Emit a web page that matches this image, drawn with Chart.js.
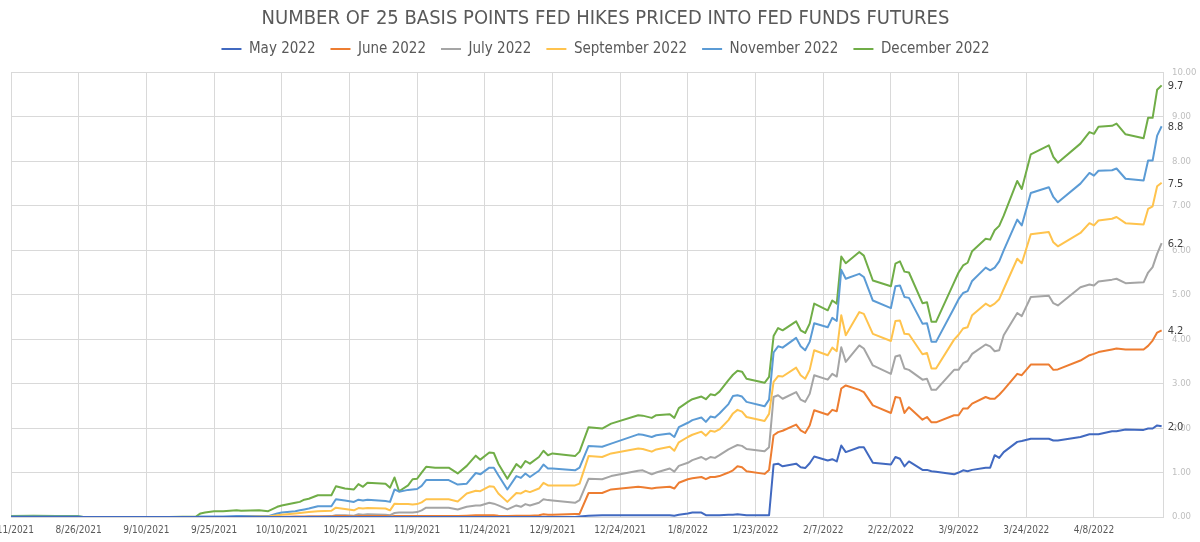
<!DOCTYPE html>
<html><head><meta charset="utf-8">
<script src="https://cdn.jsdelivr.net/npm/chart.js@4.4.1/dist/chart.umd.min.js"></script>
<style>html,body{margin:0;padding:0;background:#fff;}#wrap{position:relative;width:1200px;height:542px;}</style>
</head><body><div id="wrap"><canvas id="c"></canvas></div>
<script>
const FONT = "'Liberation Sans Narrow','DejaVu Sans Condensed','Roboto',sans-serif";
const titleText = 'NUMBER OF 25 BASIS POINTS FED HIKES PRICED INTO FED FUNDS FUTURES';
const seriesNames = ['May 2022','June 2022','July 2022','September 2022','November 2022','December 2022'];
const seriesColors = ['#4169C0','#ED7D31','#A5A5A5','#FFC34D','#5B9BD5','#70AD47'];
const xTickLabels = ['8/11/2021','8/26/2021','9/10/2021','9/25/2021','10/10/2021','10/25/2021','11/9/2021','11/24/2021','12/9/2021','12/24/2021','1/8/2022','1/23/2022','2/7/2022','2/22/2022','3/9/2022','3/24/2022','4/8/2022'];
const yTickValues = [0,1,2,3,4,5,6,7,8,9,10];

const dates = [
'2021-08-11','2021-08-16','2021-08-21','2021-08-26','2021-08-27','2021-09-05','2021-09-15','2021-09-21','2021-09-22','2021-09-23',
'2021-09-25','2021-09-27','2021-09-30','2021-10-01','2021-10-05','2021-10-07','2021-10-09','2021-10-10','2021-10-13','2021-10-14',
'2021-10-15','2021-10-16','2021-10-18','2021-10-21','2021-10-22','2021-10-24','2021-10-26','2021-10-27','2021-10-28','2021-10-29',
'2021-11-02','2021-11-03','2021-11-04','2021-11-05','2021-11-07','2021-11-08','2021-11-09','2021-11-10','2021-11-11','2021-11-13',
'2021-11-16','2021-11-18','2021-11-20','2021-11-22','2021-11-23','2021-11-25','2021-11-26','2021-11-27','2021-11-29','2021-12-01',
'2021-12-02','2021-12-03','2021-12-04','2021-12-06','2021-12-07','2021-12-08','2021-12-09','2021-12-14','2021-12-15','2021-12-17',
'2021-12-20','2021-12-22','2021-12-28','2021-12-29','2021-12-31','2022-01-01','2022-01-04','2022-01-05','2022-01-06','2022-01-08',
'2022-01-09','2022-01-11','2022-01-12','2022-01-13','2022-01-14','2022-01-15','2022-01-17','2022-01-18','2022-01-19','2022-01-20',
'2022-01-21','2022-01-25','2022-01-26','2022-01-27','2022-01-28','2022-01-29','2022-02-01','2022-02-02','2022-02-03','2022-02-04',
'2022-02-05','2022-02-08','2022-02-09','2022-02-10','2022-02-11','2022-02-12','2022-02-15','2022-02-16','2022-02-18','2022-02-22',
'2022-02-23','2022-02-24','2022-02-25','2022-02-26','2022-03-01','2022-03-02','2022-03-03','2022-03-04','2022-03-08','2022-03-09',
'2022-03-10','2022-03-11','2022-03-12','2022-03-15','2022-03-16','2022-03-17','2022-03-18','2022-03-19','2022-03-22','2022-03-23',
'2022-03-25','2022-03-29','2022-03-30','2022-03-31','2022-04-05','2022-04-07','2022-04-08','2022-04-09','2022-04-12','2022-04-13',
'2022-04-15','2022-04-19','2022-04-20','2022-04-21','2022-04-22','2022-04-23'];

const may2022 = [
0,0,0,0,0,0,0,0,0,0,
0,0,0,0,0,0,0,0,0,0,
0,0,0,0,0,0,0,0,0,0,
0,0,0,0,0,0,0,0,0,0,
0,0,0,0,0,0,0,0,0,0,
0,0,0,0,0,0,0,0,0.01,0.03,
0.04,0.04,0.04,0.04,0.04,0.04,0.04,0.03,0.05,0.08,
0.10,0.10,0.04,0.04,0.04,0.04,0.05,0.05,0.06,0.05,
0.04,0.04,0.04,1.18,1.20,1.14,1.20,1.12,1.10,1.21,
1.36,1.27,1.30,1.25,1.61,1.46,1.57,1.57,1.22,1.18,
1.35,1.31,1.14,1.25,1.06,1.06,1.03,1.02,0.96,1.00,
1.05,1.03,1.06,1.11,1.11,1.39,1.33,1.46,1.69,1.71,
1.76,1.76,1.72,1.72,1.80,1.86,1.86,1.86,1.93,1.93,
1.97,1.96,1.99,1.99,2.06,2.04];

const june2022 = [
0,0,0,0,0,0,0,0,0,0,
0,0,0,0,0,0,0,0,0.01,0.01,
0.01,0.01,0.01,0.01,0.02,0.02,0.01,0.02,0.02,0.02,
0.02,0.01,0.02,0.02,0.02,0.02,0.02,0.02,0.02,0.02,
0.02,0.02,0.03,0.04,0.04,0.04,0.04,0.03,0.02,0.03,
0.03,0.03,0.03,0.04,0.06,0.05,0.05,0.07,0.07,0.54,
0.54,0.62,0.68,0.67,0.64,0.66,0.68,0.64,0.77,0.85,
0.87,0.90,0.85,0.90,0.90,0.92,1.00,1.05,1.14,1.12,
1.03,0.97,1.06,1.84,1.91,1.94,2.08,1.95,1.89,2.06,
2.40,2.30,2.41,2.38,2.89,2.96,2.86,2.81,2.51,2.34,
2.70,2.68,2.34,2.47,2.19,2.25,2.13,2.13,2.29,2.29,
2.44,2.44,2.55,2.70,2.66,2.66,2.75,2.86,3.22,3.19,
3.43,3.43,3.31,3.32,3.52,3.64,3.67,3.71,3.77,3.79,
3.77,3.77,3.85,3.97,4.15,4.20];

const july2022 = [
0,0,0,0,0,0,0,0,0,0,
0,0,0,0,0,0,0,0,0,0,
0,0.01,0.01,0.02,0.04,0.04,0.03,0.06,0.05,0.06,
0.05,0.04,0.09,0.10,0.10,0.10,0.11,0.15,0.21,0.21,
0.21,0.17,0.23,0.26,0.26,0.32,0.30,0.26,0.17,0.26,
0.23,0.29,0.26,0.32,0.40,0.38,0.37,0.32,0.38,0.86,
0.85,0.92,1.04,1.05,0.96,1.00,1.09,1.02,1.15,1.22,
1.28,1.35,1.29,1.35,1.33,1.39,1.52,1.57,1.62,1.60,
1.53,1.48,1.57,2.70,2.74,2.66,2.81,2.64,2.59,2.77,
3.19,3.09,3.22,3.16,3.82,3.49,3.86,3.79,3.41,3.22,
3.61,3.64,3.34,3.31,3.09,3.11,2.86,2.86,3.31,3.31,
3.46,3.51,3.67,3.88,3.84,3.73,3.75,4.09,4.59,4.52,
4.95,4.98,4.81,4.76,5.17,5.23,5.21,5.30,5.34,5.36,
5.26,5.28,5.50,5.62,5.92,6.16];

const september2022 = [
0,0,0,0,0,0,0,0,0,0,
0,0,0,0,0.01,0.01,0.04,0.05,0.08,0.09,
0.10,0.11,0.13,0.14,0.21,0.18,0.15,0.20,0.19,0.20,
0.19,0.15,0.30,0.29,0.29,0.28,0.29,0.33,0.40,0.40,
0.40,0.35,0.53,0.59,0.58,0.69,0.68,0.53,0.34,0.54,
0.53,0.59,0.56,0.64,0.77,0.71,0.71,0.71,0.75,1.37,
1.35,1.43,1.54,1.53,1.47,1.52,1.58,1.49,1.68,1.80,
1.85,1.92,1.83,1.94,1.92,1.97,2.18,2.33,2.41,2.37,
2.25,2.16,2.32,3.04,3.17,3.16,3.36,3.19,3.11,3.31,
3.75,3.64,3.81,3.73,4.54,4.09,4.61,4.57,4.12,3.96,
4.41,4.42,4.12,4.11,3.66,3.69,3.34,3.34,3.99,4.10,
4.24,4.27,4.54,4.80,4.74,4.80,4.90,5.13,5.81,5.71,
6.36,6.41,6.18,6.09,6.39,6.61,6.56,6.67,6.71,6.75,
6.61,6.58,6.93,6.99,7.44,7.52];

const november2022 = [
0.01,0.01,0.01,0.01,0,0,0,0,0.01,0.01,
0.01,0.01,0.02,0.02,0.02,0.02,0.08,0.10,0.13,0.15,
0.17,0.19,0.24,0.24,0.40,0.37,0.34,0.39,0.37,0.39,
0.36,0.34,0.62,0.57,0.61,0.62,0.63,0.70,0.83,0.83,
0.83,0.73,0.75,0.99,0.96,1.11,1.11,0.94,0.62,0.92,
0.88,0.98,0.90,1.04,1.18,1.09,1.09,1.05,1.11,1.60,
1.58,1.65,1.86,1.85,1.80,1.84,1.88,1.80,2.02,2.12,
2.18,2.24,2.14,2.26,2.24,2.33,2.54,2.72,2.74,2.71,
2.59,2.49,2.64,3.70,3.84,3.81,4.03,3.84,3.75,3.94,
4.36,4.27,4.48,4.41,5.56,5.36,5.47,5.40,4.87,4.70,
5.19,5.21,4.95,4.93,4.35,4.36,3.94,3.94,4.70,4.90,
5.04,5.08,5.31,5.61,5.55,5.61,5.75,6.00,6.69,6.56,
7.29,7.42,7.20,7.08,7.50,7.74,7.68,7.79,7.80,7.84,
7.61,7.57,8.02,8.02,8.58,8.79];

const december2022 = [
0.02,0.03,0.02,0.02,0,0,0,0.01,0.08,0.10,
0.13,0.13,0.15,0.14,0.15,0.13,0.23,0.26,0.32,0.34,
0.39,0.41,0.49,0.49,0.69,0.64,0.62,0.74,0.68,0.77,
0.75,0.66,0.89,0.58,0.71,0.85,0.86,1.00,1.13,1.11,
1.11,0.98,1.15,1.38,1.29,1.45,1.44,1.20,0.86,1.19,
1.11,1.26,1.20,1.35,1.49,1.39,1.43,1.37,1.47,2.02,
1.99,2.10,2.29,2.28,2.23,2.29,2.31,2.23,2.45,2.59,
2.65,2.71,2.65,2.76,2.74,2.82,3.08,3.20,3.29,3.27,
3.11,3.02,3.15,4.07,4.25,4.20,4.40,4.20,4.14,4.35,
4.80,4.65,4.87,4.80,5.86,5.71,5.96,5.88,5.32,5.19,
5.70,5.75,5.52,5.50,4.81,4.83,4.39,4.39,5.28,5.50,
5.66,5.72,5.98,6.26,6.24,6.45,6.55,6.78,7.56,7.38,
8.16,8.36,8.10,7.97,8.40,8.66,8.62,8.78,8.80,8.85,
8.61,8.52,8.98,8.98,9.61,9.71];

const seriesValues = [may2022, june2022, july2022, september2022, november2022, december2022];

// day offsets from the first date
const startMs = Date.parse(dates[0] + 'T00:00:00Z');
const dayIndex = dates.map(d => Math.round((Date.parse(d + 'T00:00:00Z') - startMs) / 86400000));

const endLabels = {
  id: 'endLabels',
  afterDatasetsDraw(chart) {
    const ctx = chart.ctx;
    ctx.save();
    ctx.font = '11px ' + FONT;
    ctx.fillStyle = '#404040';
    ctx.textAlign = 'left';
    ctx.textBaseline = 'middle';
    chart.data.datasets.forEach((ds, i) => {
      const meta = chart.getDatasetMeta(i);
      const el = meta.data[meta.data.length - 1];
      const v = ds.data[ds.data.length - 1].y;
      ctx.fillText(v.toFixed(1), el.x + 6, el.y + 1);
    });
    ctx.restore();
  }
};

// adds a little space between the legend and the plot area
const legendGap = {
  id: 'legendGap',
  beforeLayout(chart) {
    const lg = chart.legend;
    if (lg && !lg._gapPatched) {
      const orig = lg.fit.bind(lg);
      lg.fit = function () { orig(); this.height += 6; };
      lg._gapPatched = true;
    }
  }
};

Chart.defaults.font.family = FONT;

new Chart(document.getElementById('c'), {
  type: 'line',
  data: {
    datasets: seriesNames.map((name, i) => ({
      label: name,
      data: seriesValues[i].map((v, j) => ({ x: dayIndex[j], y: v })),
      borderColor: seriesColors[i],
      backgroundColor: seriesColors[i],
      borderWidth: 2,
      pointRadius: 0,
      pointHoverRadius: 0,
      tension: 0,
      borderJoinStyle: 'round',
      fill: false
    }))
  },
  plugins: [endLabels, legendGap],
  options: {
    responsive: true,
    maintainAspectRatio: false,
    animation: false,
    events: [],
    layout: { padding: { left: 11, right: 0, top: 0, bottom: 0 } },
    plugins: {
      title: {
        display: true,
        text: titleText,
        color: '#595959',
        font: { size: 20, weight: 'normal', lineHeight: 1.2 },
        padding: { top: 7, bottom: -4.5 }
      },
      legend: {
        display: true,
        position: 'top',
        labels: {
          color: '#595959',
          font: { size: 15 },
          usePointStyle: true,
          pointStyle: 'line',
          pointStyleWidth: 20,
          padding: 15
        }
      },
      tooltip: { enabled: false }
    },
    scales: {
      x: {
        type: 'linear',
        min: 0,
        max: 255.3,
        afterBuildTicks(scale) { scale.ticks = xTickLabels.map((_, i) => ({ value: i * 15 })); },
        afterFit(scale) { scale.paddingLeft = 0; scale.paddingRight = 0; scale.height = 25; },
        ticks: {
          autoSkip: false,
          maxRotation: 0,
          padding: 7,
          color: '#595959',
          font: { size: 10 },
          callback: (v) => xTickLabels[Math.round(v / 15)] || ''
        },
        grid: { color: '#d9d9d9', drawTicks: false },
        border: { color: '#d9d9d9' }
      },
      y: {
        position: 'right',
        min: 0,
        max: 10,
        afterBuildTicks(scale) { scale.ticks = yTickValues.map(v => ({ value: v })); },
        afterFit(scale) { scale.width = 37; },
        ticks: {
          padding: 9,
          color: '#bfbfbf',
          font: { size: 9.5 },
          callback: (v) => Number(v).toFixed(2)
        },
        grid: { color: '#d9d9d9', drawTicks: false },
        border: { color: '#d9d9d9' }
      }
    }
  }
});
</script>
</body></html>
